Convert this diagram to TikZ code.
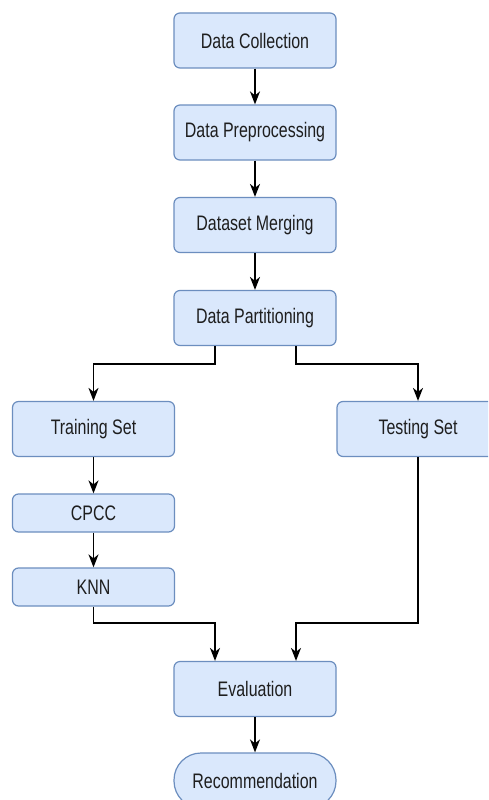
\documentclass[tikz,border=0pt]{standalone}
\usepackage{fontspec}
\newfontfamily\narrowfont[FakeStretch=0.76]{Liberation Sans}
\usetikzlibrary{arrows.meta}
\definecolor{boxfill}{HTML}{DAE8FC}
\definecolor{boxline}{HTML}{6C8EBF}
\definecolor{labeltext}{HTML}{1E1E1E}
\begin{document}
\begin{tikzpicture}[x=1pt,y=-1pt,
  stepbox/.style={draw=boxline, fill=boxfill, line width=1.2pt, rounded corners=6pt,
    minimum width=162pt, minimum height=55pt, inner sep=0pt,
    text=labeltext, font=\narrowfont\fontsize{21}{24}\selectfont},
  slimbox/.style={stepbox, minimum height=38pt},
  endbox/.style={stepbox, rounded corners=27pt},
  arr/.style={draw=black, line width=1.7pt, -{Stealth[length=13pt,width=10pt,inset=4pt]}}]
\useasboundingbox (0,0) rectangle (488,800);
\clip (0,0) rectangle (488,800);
\fill[white] (0,0) rectangle (488,800);

% main column
\node[stepbox] (collect) at (255,40.5) {Data Collection};
\node[stepbox] (prep)    at (255,132.5) {Data Preprocessing};
\node[stepbox] (merge)   at (255,225) {Dataset Merging};
\node[stepbox] (part)    at (255,318) {Data Partitioning};

% branches
\node[stepbox] (train) at (93.5,429) {Training Set};
\node[stepbox] (test)  at (418,429) {Testing Set};
\node[slimbox] (cpcc)  at (93.5,513) {CPCC};
\node[slimbox] (knn)   at (93.5,587) {KNN};

% results
\node[stepbox] (eval) at (255,689) {Evaluation};
\node[endbox]  (rec)  at (255,780.5) {Recommendation};

% routing levels
\coordinate (splitlvl) at (0,364);
\coordinate (joinlvl)  at (0,623);

\draw[arr] (collect) -- (prep);
\draw[arr] (prep) -- (merge);
\draw[arr] (merge) -- (part);

\draw[arr] ([xshift=-40pt]part.south) -- ([xshift=-40pt]part.south |- splitlvl) -| (train.north);
\draw[arr] ([xshift=41pt]part.south) -- ([xshift=41pt]part.south |- splitlvl) -| (test.north);

\draw[arr] (train) -- (cpcc);
\draw[arr] (cpcc) -- (knn);

\draw[arr] (knn.south) -- (knn.south |- joinlvl) -| ([xshift=-40pt]eval.north);
\draw[arr] (test.south) -- (test.south |- joinlvl) -| ([xshift=41pt]eval.north);

\draw[arr] (eval) -- (rec);
\end{tikzpicture}
\end{document}
